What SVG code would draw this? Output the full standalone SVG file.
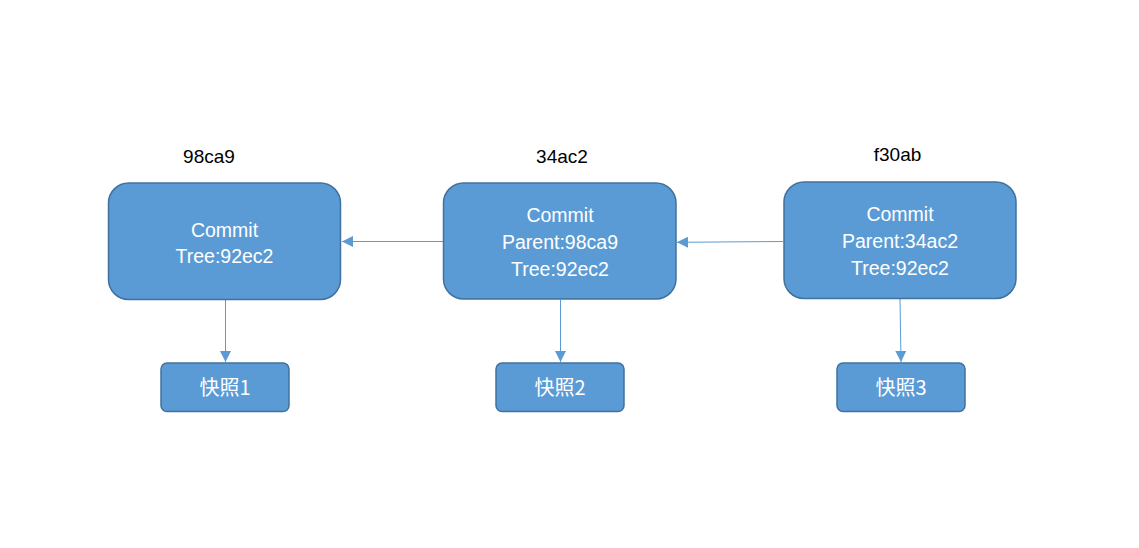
<svg xmlns="http://www.w3.org/2000/svg" width="1139" height="548" viewBox="0 0 1139 548">
<style>
.commit{fill:#5B9BD5;stroke:#41719C;stroke-width:1.5}
.snap{fill:#5B9BD5;stroke:#41719C;stroke-width:1.5}
.t{font-family:"Liberation Sans","Noto Sans CJK SC",sans-serif;font-size:19.5px;fill:#FFFFFF;text-anchor:middle}
.cjk{font-family:"Noto Sans CJK SC","Liberation Sans",sans-serif;font-size:20px;fill:#FFFFFF;text-anchor:middle}
.lbl{font-family:"Liberation Sans",sans-serif;font-size:19px;fill:#000000;text-anchor:middle}
.conn{stroke:#5B9BD5;stroke-width:1;fill:none}
</style>
<defs>
<marker id="arr" markerUnits="userSpaceOnUse" markerWidth="12" markerHeight="11" refX="11" refY="5.5" orient="auto">
<path d="M0,0 L11,5.5 L0,11 Z" fill="#5B9BD5"/>
</marker>
</defs>
<rect width="1139" height="548" fill="#FFFFFF"/>
<g id="connectors">
<line class="conn" x1="443" y1="241.5" x2="342" y2="241.5" marker-end="url(#arr)"/>
<line class="conn" x1="783" y1="241.5" x2="677" y2="242.3" marker-end="url(#arr)"/>
<line class="conn" x1="225.5" y1="300" x2="225.5" y2="362" marker-end="url(#arr)"/>
<line class="conn" x1="560.5" y1="300" x2="560.5" y2="362" marker-end="url(#arr)"/>
<line class="conn" x1="900" y1="299" x2="901" y2="362" marker-end="url(#arr)"/>
</g>
<g id="commit1">
<text class="lbl" x="209" y="162.5">98ca9</text>
<rect class="commit" x="108.5" y="183" width="232" height="116.5" rx="20"/>
<text class="t" x="224.5" y="236.5">Commit</text>
<text class="t" x="224.5" y="263">Tree:92ec2</text>
</g>
<g id="commit2">
<text class="lbl" x="562" y="162.5">34ac2</text>
<rect class="commit" x="443.5" y="183" width="232.5" height="116" rx="20"/>
<text class="t" x="560" y="222.3">Commit</text>
<text class="t" x="560" y="249.3">Parent:98ca9</text>
<text class="t" x="560" y="276.3">Tree:92ec2</text>
</g>
<g id="commit3">
<text class="lbl" x="897.5" y="161">f30ab</text>
<rect class="commit" x="784" y="182" width="232" height="116.5" rx="20"/>
<text class="t" x="900" y="221">Commit</text>
<text class="t" x="900" y="248">Parent:34ac2</text>
<text class="t" x="900" y="275">Tree:92ec2</text>
</g>
<g id="snap1">
<rect class="snap" x="161" y="363" width="128" height="48.5" rx="6"/>
<text class="cjk" x="225" y="394.5">快照1</text>
</g>
<g id="snap2">
<rect class="snap" x="496" y="363" width="128" height="48.5" rx="6"/>
<text class="cjk" x="560" y="394.5">快照2</text>
</g>
<g id="snap3">
<rect class="snap" x="837" y="363" width="128" height="48.5" rx="6"/>
<text class="cjk" x="901" y="394.5">快照3</text>
</g>
</svg>
